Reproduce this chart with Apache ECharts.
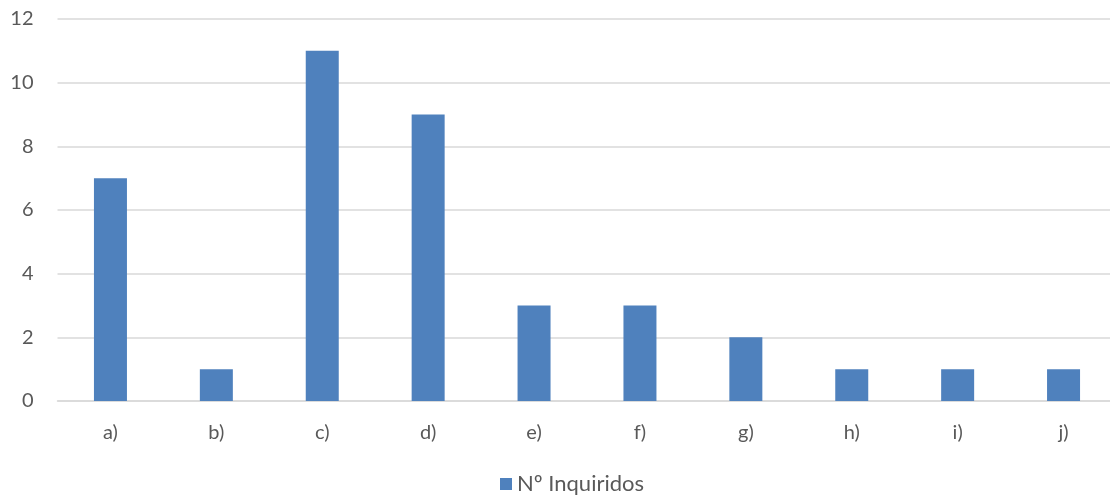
<!DOCTYPE html>
<html>
<head>
<meta charset="utf-8">
<script src="https://cdn.jsdelivr.net/npm/echarts@6/dist/echarts.min.js"></script>
<style>
  html, body { margin: 0; padding: 0; background: #fff; }
  #chart { width: 1110px; height: 497px; }
</style>
</head>
<body>
<div id="chart"></div>
<script>
// Respostas por opção
const categories = ['a)', 'b)', 'c)', 'd)', 'e)', 'f)', 'g)', 'h)', 'i)', 'j)'];
const inquiridos = [7, 1, 11, 9, 3, 3, 2, 1, 1, 1];
const seriesName = 'Nº Inquiridos';

const chart = echarts.init(document.getElementById('chart'));
const textColor = '#595959';
const fontFamily = 'Lato, "Open Sans", sans-serif';

chart.setOption({
  animation: false,
  grid: { left: 57.5, top: 19, right: -6.5, bottom: 96, containLabel: false, outerBoundsMode: 'none' },
  legend: {
    data: [seriesName],
    top: 468,
    left: 495,
    itemWidth: 12,
    itemHeight: 12,
    itemGap: 6,
    icon: 'rect',
    textStyle: { color: textColor, fontSize: 22, fontFamily: fontFamily }
  },
  xAxis: {
    type: 'category',
    data: categories,
    axisLine: { lineStyle: { color: '#d9d9d9', width: 1.5 } },
    axisTick: { show: false },
    axisLabel: { color: textColor, fontSize: 20, fontFamily: fontFamily, margin: 22 }
  },
  yAxis: {
    type: 'value',
    min: 0,
    max: 12,
    interval: 2,
    axisLine: { show: false },
    axisTick: { show: false },
    splitLine: { lineStyle: { color: '#d9d9d9', width: 1.5 } },
    axisLabel: { color: textColor, fontSize: 20, fontFamily: fontFamily, margin: 24 }
  },
  series: [{
    name: seriesName,
    type: 'bar',
    data: inquiridos,
    barWidth: 33,
    itemStyle: { color: '#4f81bd' }
  }]
});
</script>
</body>
</html>
